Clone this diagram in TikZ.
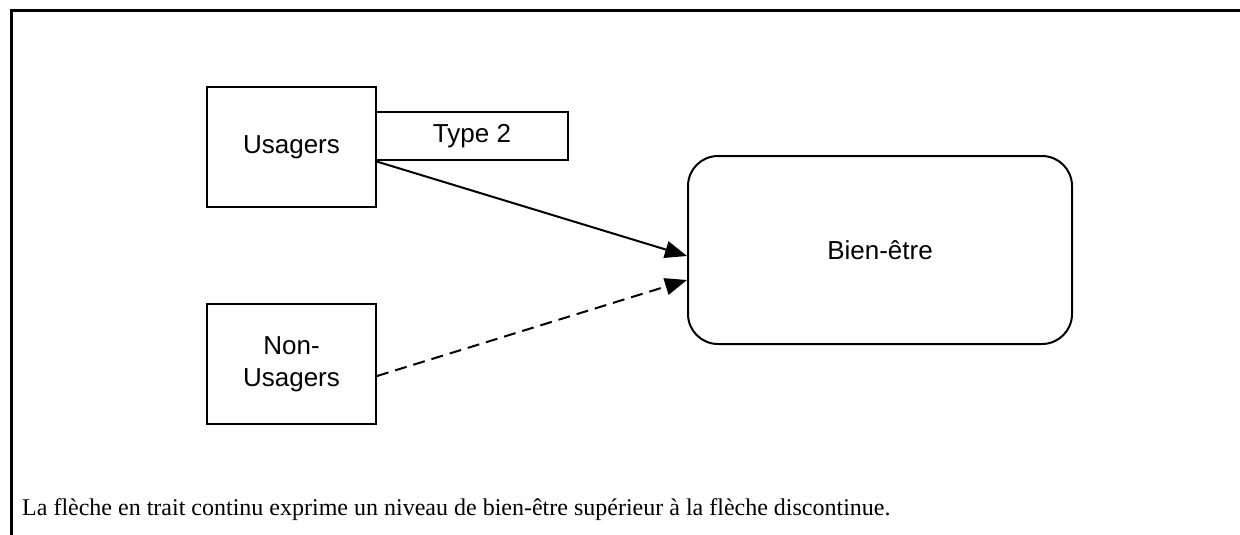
\documentclass[tikz,border=0pt]{standalone}
\usepackage{fontspec}
\setmainfont{Liberation Serif}
\setsansfont{Liberation Sans}
\usepackage{tikz}
\usetikzlibrary{arrows.meta}

\begin{document}
\begin{tikzpicture}[x=1pt,y=-1pt,
  box/.style={draw,line width=2pt,align=center,inner sep=0pt,
    font=\sffamily\fontsize{26}{32}\selectfont},
  fleche/.style={line width=2pt,-{Triangle[length=22pt,width=17pt]}}]
  \useasboundingbox (0,0) rectangle (1240,535);
  % cadre
  \draw[line width=3pt] (11,535) -- (11,11) -- (1240,11);
  % les boites
  \node[box,minimum width=169pt,minimum height=120pt] (usagers) at (291.5,147) {Usagers};
  \node[box,minimum width=192pt,minimum height=48pt] (type2) at (472,136) {Type 2};
  \node[box,minimum width=169pt,minimum height=120pt] (nonusagers) at (291.5,364) {Non-\\Usagers};
  \node[box,rounded corners=30pt,minimum width=384pt,minimum height=188pt] (bien) at (880,250) {\raisebox{-5pt}{Bien-être}};
  % les fleches
  \draw[fleche] (type2.south west) -- ([yshift=-6pt]bien.west);
  \draw[fleche,dash pattern=on 12pt off 7pt] ([yshift=-12pt]nonusagers.east) -- ([yshift=-30pt]bien.west);
  % legende
  \node[anchor=base west,inner sep=0pt,font=\fontsize{24}{28}\selectfont] (legende) at (22,515)
    {La flèche en trait continu exprime un niveau de bien-être supérieur à la flèche discontinue.};
\end{tikzpicture}
\end{document}
